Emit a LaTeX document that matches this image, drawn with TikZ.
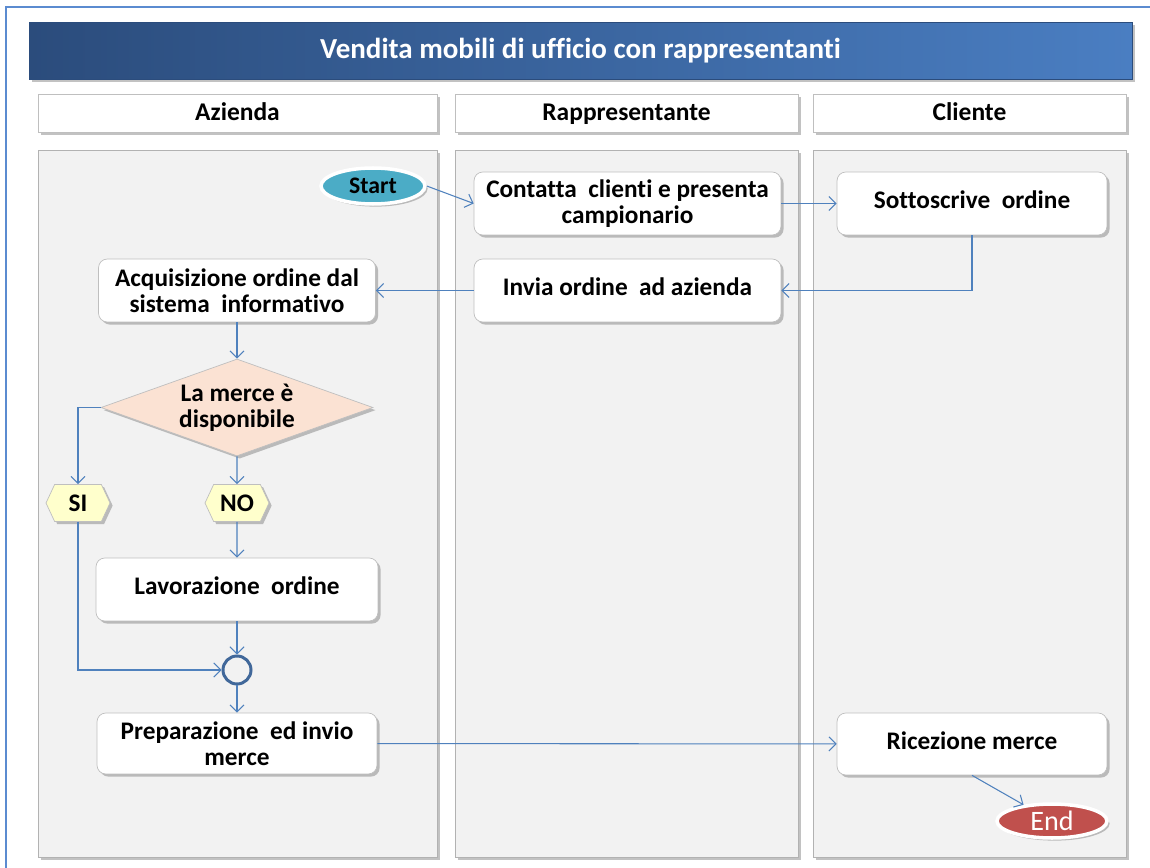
\documentclass[tikz,border=0pt]{standalone}
\usepackage{fontspec}
\setmainfont[Ligatures=NoCommon]{Carlito}
\usetikzlibrary{shapes.geometric,shapes.symbols,shadows,arrows.meta}
\definecolor{frameblue}{HTML}{5B8BD0}
\definecolor{titledark}{HTML}{2B4C7C}
\definecolor{titlelight}{HTML}{4A7EC2}
\definecolor{flowblue}{HTML}{4F81BD}
\definecolor{lanegray}{HTML}{F2F2F2}
\definecolor{edgegray}{HTML}{BFBFBF}
\definecolor{peach}{HTML}{FBE2D3}
\definecolor{paleyellow}{HTML}{FFFFCC}
\definecolor{startteal}{HTML}{4BACC6}
\definecolor{endred}{HTML}{C0504D}
\definecolor{ringblue}{HTML}{41689A}
\begin{document}
\begin{tikzpicture}[x=0.02cm, y=-0.02cm,
        every node/.style={font=\fontsize{14.4}{15}\selectfont\bfseries, align=center, inner sep=0pt},
        softshadow/.style={drop shadow={shadow xshift=1.5pt, shadow yshift=-1.5pt, opacity=0.4, fill=black!60}},
        header/.style={draw=edgegray, fill=white, minimum height=0.76cm, text height=11pt, text depth=2pt, softshadow, font=\fontsize{14.5}{16}\selectfont\bfseries},
        lane/.style={draw=black!30, fill=lanegray, minimum height=14.14cm, softshadow},
        box/.style={draw=edgegray, fill=white, rounded corners=5pt, minimum height=1.26cm, softshadow},
        oneline/.style={text height=9pt, text depth=3pt},
        decision/.style={diamond, aspect=2.8, draw=edgegray, fill=peach, minimum width=5.44cm, minimum height=1.94cm, softshadow},
        tag/.style={signal, signal to=east and west, signal pointer angle=130, draw=edgegray, fill=paleyellow, minimum width=1.28cm, minimum height=0.74cm, softshadow},
        terminal/.style={ellipse, draw=white, line width=2pt, minimum width=2.08cm, minimum height=0.72cm, softshadow},
        junction/.style={circle, draw=ringblue, line width=1.7pt, fill=lanegray, minimum size=0.56cm},
        flow/.style={draw=flowblue, line width=0.6pt, -{Straight Barb[length=4pt, width=8pt]}}]
    \useasboundingbox (0,0) rectangle (1150,868);
    \draw[frameblue, line width=1pt] (6,868) -- (6,7) -- (1150,7);
    \node[draw=titledark, left color=titledark, right color=titlelight, minimum width=22.06cm, minimum height=1.14cm, text=white, font=\fontsize{16.5}{18}\selectfont\bfseries, softshadow] (titolo) at (580.5,50.5) {Vendita mobili di ufficio con rappresentanti};
    \node[header, minimum width=7.98cm] (hAzienda) at (237.5,113) {Azienda};
    \node[header, minimum width=6.86cm] (hRapp) at (626.5,113) {Rappresentante};
    \node[header, minimum width=6.26cm] (hCliente) at (969.5,113) {Cliente};
    \node[lane, minimum width=7.98cm] (lAzienda) at (237.5,503.5) {};
    \node[lane, minimum width=6.86cm] (lRapp) at (626.5,503.5) {};
    \node[lane, minimum width=6.26cm] (lCliente) at (969.5,503.5) {};
    \node[terminal, fill=startteal, font=\fontsize{13.5}{16}\selectfont\bfseries] (start) at (373,186) {Start};
    \node[box, minimum width=6.14cm] (contatta) at (627.5,203.5) {Contatta\ \ clienti e presenta\\campionario};
    \node[box, oneline, minimum width=5.4cm] (sottoscrive) at (972,203.5) {Sottoscrive\ \ ordine};
    \node[box, oneline, minimum width=6.14cm] (invia) at (627.5,290.5) {Invia ordine\ \ ad azienda};
    \node[box, minimum width=5.54cm] (acquisizione) at (237,290.5) {Acquisizione ordine dal\\sistema\ \ informativo};
    \node[decision] (merce) at (237,407.5) {La merce è\\disponibile};
    \node[tag] (si) at (78,503) {SI};
    \node[tag] (no) at (237,503) {NO};
    \node[box, oneline, minimum width=5.64cm] (lavorazione) at (237,589.5) {Lavorazione\ \ ordine};
    \node[junction] (unione) at (237,670) {};
    \node[box, minimum width=5.6cm, minimum height=1.22cm] (preparazione) at (237,743.5) {Preparazione\ \ ed invio\\merce};
    \node[box, oneline, minimum width=5.4cm, minimum height=1.24cm] (ricezione) at (972,744) {Ricezione merce};
    \node[terminal, fill=endred, text=white, minimum width=2.2cm, minimum height=0.68cm, font=\fontsize{16}{18}\selectfont] (fine) at (1052,821) {End};
    \foreach \i/\j in {start.east/contatta.west, contatta/sottoscrive, invia/acquisizione, acquisizione/merce, merce/no, no/lavorazione, lavorazione/unione, unione/preparazione, preparazione/ricezione, ricezione.south/fine}
        \draw[flow] (\i) -- (\j);
    \draw[flow] (sottoscrive.south) |- (invia.east);
    \draw[flow] (merce.west) -| (si.north);
    \draw[flow] (si.south) |- (unione.west);
\end{tikzpicture}
\end{document}
